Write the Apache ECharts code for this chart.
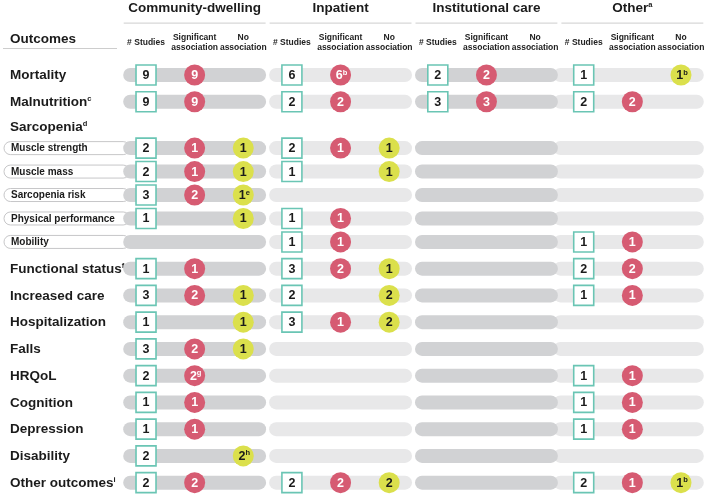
<!DOCTYPE html>
<html><head><meta charset="utf-8">
<script src="https://cdn.jsdelivr.net/npm/echarts@6/dist/echarts.min.js"></script>
<style>html,body{margin:0;padding:0;background:#fff}#c{width:709px;height:496px}</style>
</head><body><div id="c"></div>
<script>
// ---------- data ----------
const outcomes = ['Mortality','Malnutrition','Sarcopenia','Muscle strength','Muscle mass','Sarcopenia risk','Physical performance','Mobility','Functional status','Increased care','Hospitalization','Falls','HRQoL','Cognition','Depression','Disability','Other outcomes'];
const outcomeNotes = ['','c','d','','','','','','f','','','','','','','','i'];
const outcomeKinds = ['main','main','header','sub','sub','sub','sub','sub','main','main','main','main','main','main','main','main','main'];
const groups = ['Community-dwelling','Inpatient','Institutional care','Other'];
const groupNotes = ['','','','a'];
const columnHeaders = ['# Studies','Significant\nassociation','No\nassociation'];

const communityStudies = [9,9,null,2,2,3,1,null,1,3,1,3,2,1,1,2,2];
const communitySig     = [9,9,null,1,1,2,null,null,1,2,null,2,2,1,1,null,2];
const communityNo      = [null,null,null,1,1,1,1,null,null,1,1,1,null,null,null,2,null];
const communitySigNotes = ['','','','','','','','','','','','','g','','','',''];
const communityNoNotes  = ['','','','','','e','','','','','','','','','','h',''];

const inpatientStudies = [6,2,null,2,1,null,1,1,3,2,3,null,null,null,null,null,2];
const inpatientSig     = [6,2,null,1,null,null,1,1,2,null,1,null,null,null,null,null,2];
const inpatientNo      = [null,null,null,1,1,null,null,null,1,2,2,null,null,null,null,null,2];
const inpatientSigNotes = ['b','','','','','','','','','','','','','','','',''];

const institutionalStudies = [2,3,null,null,null,null,null,null,null,null,null,null,null,null,null,null,null];
const institutionalSig     = [2,3,null,null,null,null,null,null,null,null,null,null,null,null,null,null,null];
const institutionalNo      = [null,null,null,null,null,null,null,null,null,null,null,null,null,null,null,null,null];

const otherStudies = [1,2,null,null,null,null,null,1,2,1,null,null,1,1,1,null,2];
const otherSig     = [null,2,null,null,null,null,null,1,2,1,null,null,1,1,1,null,1];
const otherNo      = [1,null,null,null,null,null,null,null,null,null,null,null,null,null,null,null,1];
const otherNoNotes = ['b','','','','','','','','','','','','','','','','b'];

// ---------- layout / style ----------
const FONT = '"Liberation Sans", Arial, Helvetica, sans-serif';
const C_TEAL = '#6ac5b4', C_RED = '#d65b72', C_YEL = '#dbe04c';
const C_DARK = '#d1d2d4', C_LIGHT = '#e8e8e9', C_TEXT = '#1b1b1b';
const stepFor = {main: 26.8, header: 25, sub: 23.5, afterHeader: 21.5};
const HALF = 13.4;
const rowY = [];
(function(){ let acc = HALF; outcomeKinds.forEach((k,i)=>{ if(i>0){ acc += outcomeKinds[i-1]==='header' ? stepFor.afterHeader : stepFor[k]; } rowY.push(acc); }); })();
const yMax = rowY[rowY.length-1] + HALF;

function supText(v, note, main, sup){ return note ? `{${main}|${v}}{${sup}|${note}}` : `{${main}|${v}}`; }

function markData(values, notes, col){
  const out = [];
  values.forEach((v,i)=>{ if(v!=null) out.push({value:[col, rowY[i], v], note: notes ? notes[i] : ''}); });
  return out;
}

function squareSeries(values, col){
  const data = markData(values, null, col);
  return {type:'custom', xAxisIndex:0, yAxisIndex:0, z:5, data, clip:false,
    renderItem(params, api){
      const p = api.coord([api.value(0), api.value(1)]);
      return {type:'group', children:[
        {type:'rect', shape:{x:p[0]-10, y:p[1]-10, width:20, height:20}, style:{fill:'#fff', stroke:C_TEAL, lineWidth:1.6}},
        {type:'text', style:{x:p[0], y:p[1]+0.5, text:String(api.value(2)), align:'center', verticalAlign:'middle', fill:C_TEXT, font:`bold 12.5px ${FONT}`}}
      ]};
    }};
}
function circleSeries(values, notes, col, fill, txt){
  const data = markData(values, notes, col);
  return {type:'custom', xAxisIndex:0, yAxisIndex:0, z:5, data, clip:false,
    renderItem(params, api){
      const p = api.coord([api.value(0), api.value(1)]);
      const note = data[params.dataIndex].note;
      return {type:'group', children:[
        {type:'circle', shape:{cx:p[0], cy:p[1], r:10.5}, style:{fill}},
        {type:'text', style:{x:p[0]+(note?1:0), y:p[1]+0.5, text:supText(api.value(2), note, 'n', 's'), align:'center', verticalAlign:'middle',
          rich:{n:{fill:txt, fontSize:12.5, fontWeight:'bold', fontFamily:FONT}, s:{fill:txt, fontSize:7.5, fontWeight:'bold', fontFamily:FONT, verticalAlign:'top', lineHeight:14}}}}
      ]};
    }};
}

// bars behind each row for each setting
const barData = [];
outcomeKinds.forEach((k,i)=>{ if(k!=='header') groups.forEach((g,gi)=>barData.push([gi*3+1, rowY[i], gi])); });
const barSeries = {type:'custom', xAxisIndex:0, yAxisIndex:0, z:2, data:barData, clip:false,
  renderItem(params, api){
    const p = api.coord([api.value(0), api.value(1)]);
    const w = api.size([1,0])[0];
    const gi = api.value(2);
    const x0 = p[0]-1.5*w + (gi===3 ? -6 : 1.5), x1 = p[0]+1.5*w - 1.5;
    return {type:'rect', z2: gi%2===0 ? 2 : 1, shape:{x:x0, y:p[1]-7, width:x1-x0, height:14, r:7}, style:{fill: gi%2===0 ? C_DARK : C_LIGHT}};
  }};

// outcome labels (+ pill outlines for sarcopenia sub-rows)
const labelData = outcomes.map((o,i)=>[0, rowY[i], i]);
const labelSeries = {type:'custom', xAxisIndex:0, yAxisIndex:0, z:1, data:labelData, clip:false,
  renderItem(params, api){
    const i = api.value(2);
    const p = api.coord([0, api.value(1)]);
    const sub = outcomeKinds[i]==='sub';
    const gridX = params.coordSys.x;
    const children = [];
    if(sub){
      children.push({type:'rect', shape:{x:4, y:p[1]-6.5, width:gridX+8-4, height:13, r:6.5}, style:{fill:'#fff', stroke:'#bfc0c2', lineWidth:0.9}});
    }
    children.push({type:'text', style:{x: sub?11:10, y:p[1]+0.5, text:supText(outcomes[i], outcomeNotes[i], 't', 's'), align:'left', verticalAlign:'middle',
      rich:{t:{fill:C_TEXT, fontSize: sub?10:13.5, fontWeight:'bold', fontFamily:FONT}, s:{fill:C_TEXT, fontSize:7.5, fontWeight:'bold', fontFamily:FONT, verticalAlign:'top', lineHeight: sub?11:15}}}});
    return {type:'group', children};
  }};

// underline rules below setting titles
const ruleSeries = {type:'custom', xAxisIndex:1, yAxisIndex:0, z:1, data:groups.map((g,i)=>[i]), clip:false,
  renderItem(params, api){
    const p = api.coord([api.value(0), 0]);
    const w = api.size([1,0])[0];
    const y = params.coordSys.y - 38.5;
    return {type:'line', shape:{x1:p[0]-w/2+2, y1:y, x2:p[0]+w/2-2, y2:y}, style:{stroke:'#cdcdcd', lineWidth:1}};
  }};

const colLabels = [];
groups.forEach(()=>columnHeaders.forEach(h=>colLabels.push(h)));

const chart = echarts.init(document.getElementById('c'), null, {renderer:'canvas'});
chart.setOption({
  animation:false,
  backgroundColor:'#fff',
  grid:{left:121.7, right:3.7, top:61.6, height:yMax},
  xAxis:[
    {type:'category', position:'top', data:colLabels.map((c,i)=>i), boundaryGap:true,
     axisLine:{show:false}, axisTick:{show:false}, splitLine:{show:false},
     axisLabel:{interval:0, margin:19, verticalAlign:'middle', formatter:(v,i)=>colLabels[i], color:'#222', fontFamily:FONT, fontWeight:'bold', fontSize:8.5, lineHeight:10, align:'center'}},
    {type:'category', position:'top', data:groups, boundaryGap:true,
     axisLine:{show:false}, axisTick:{show:false}, splitLine:{show:false},
     axisLabel:{interval:0, margin:53.5, verticalAlign:'middle', formatter:(v,i)=>supText(v, groupNotes[i], 't', 's'),
       rich:{t:{color:'#1b1b1b', fontFamily:FONT, fontWeight:'bold', fontSize:13.5}, s:{color:'#1b1b1b', fontFamily:FONT, fontWeight:'bold', fontSize:7.5, verticalAlign:'top', lineHeight:15}}}}
  ],
  yAxis:{type:'value', inverse:true, min:0, max:yMax, show:false},
  graphic:[
    {type:'text', left:10, top:32, style:{text:'Outcomes', fill:C_TEXT, font:`bold 13.5px ${FONT}`}},
    {type:'line', shape:{x1:3, y1:48.5, x2:117, y2:48.5}, style:{stroke:'#cdcdcd', lineWidth:1}}
  ],
  series:[
    ruleSeries,
    labelSeries,
    barSeries,
    squareSeries(communityStudies, 0),
    circleSeries(communitySig, communitySigNotes, 1, C_RED, '#fff'),
    circleSeries(communityNo, communityNoNotes, 2, C_YEL, C_TEXT),
    squareSeries(inpatientStudies, 3),
    circleSeries(inpatientSig, inpatientSigNotes, 4, C_RED, '#fff'),
    circleSeries(inpatientNo, null, 5, C_YEL, C_TEXT),
    squareSeries(institutionalStudies, 6),
    circleSeries(institutionalSig, null, 7, C_RED, '#fff'),
    circleSeries(institutionalNo, null, 8, C_YEL, C_TEXT),
    squareSeries(otherStudies, 9),
    circleSeries(otherSig, null, 10, C_RED, '#fff'),
    circleSeries(otherNo, otherNoNotes, 11, C_YEL, C_TEXT)
  ]
});
</script></body></html>
